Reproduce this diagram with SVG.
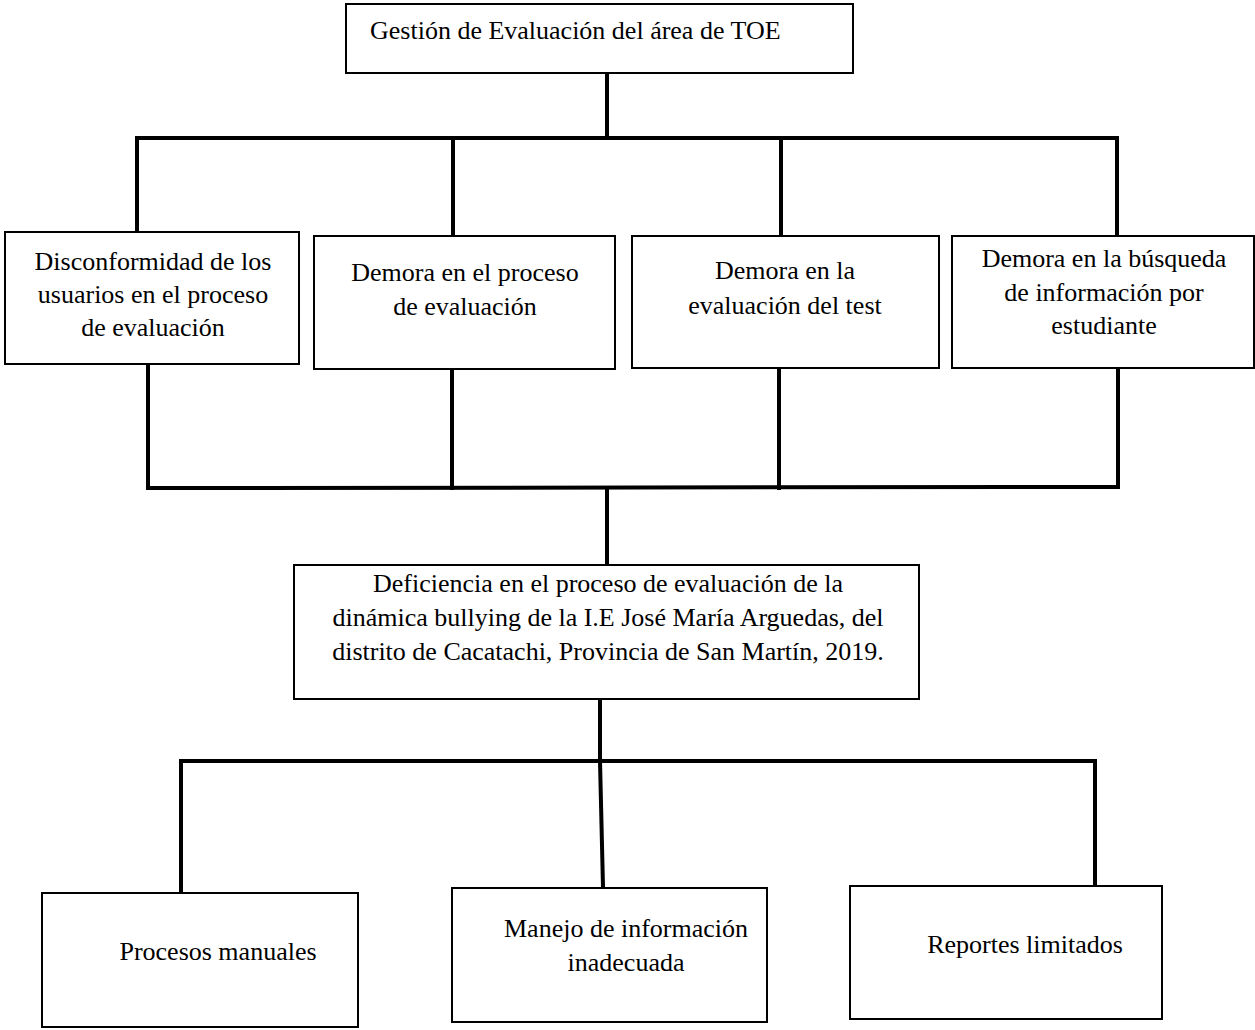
<svg xmlns="http://www.w3.org/2000/svg" width="1255" height="1030" viewBox="0 0 1255 1030">
  <style>
    .box { fill: #ffffff; stroke: #000000; stroke-width: 2; }
    .lbl { font-family: "Liberation Serif", "Times New Roman", serif; font-size: 26px; fill: #000000; text-anchor: middle; }
    .lbl-left { font-family: "Liberation Serif", "Times New Roman", serif; font-size: 26px; fill: #000000; }
    .wire { fill: none; stroke: #000000; stroke-width: 4; stroke-linecap: square; }
  </style>
  <rect width="1255" height="1030" fill="#ffffff"/>

  <!-- connectors -->
  <g id="connectors">
    <line class="wire" x1="607" y1="74" x2="607" y2="138"/>
    <line class="wire" x1="137" y1="138" x2="1117" y2="138"/>
    <line class="wire" x1="137" y1="138" x2="137" y2="231"/>
    <line class="wire" x1="453" y1="138" x2="453" y2="235"/>
    <line class="wire" x1="781" y1="138" x2="781" y2="235"/>
    <line class="wire" x1="1117" y1="138" x2="1117" y2="235"/>

    <line class="wire" x1="148" y1="365" x2="148" y2="488"/>
    <line class="wire" x1="452" y1="370" x2="452" y2="488"/>
    <line class="wire" x1="779" y1="369" x2="779" y2="488"/>
    <line class="wire" x1="1118" y1="369" x2="1118" y2="487"/>
    <line class="wire" x1="148" y1="488" x2="1118" y2="487"/>
    <line class="wire" x1="607" y1="488" x2="607" y2="564"/>

    <line class="wire" x1="600" y1="700" x2="600" y2="761"/>
    <line class="wire" x1="181" y1="761" x2="1095" y2="761"/>
    <line class="wire" x1="181" y1="761" x2="181" y2="892"/>
    <line class="wire" x1="600" y1="761" x2="603" y2="887"/>
    <line class="wire" x1="1095" y1="761" x2="1095" y2="885"/>
  </g>

  <!-- top node -->
  <g id="n-gestion">
    <rect class="box" x="346" y="4" width="507" height="69"/>
    <text class="lbl-left" x="370" y="39">Gestión de Evaluación del área de TOE</text>
  </g>

  <!-- causes row -->
  <g id="n-disconformidad">
    <rect class="box" x="5" y="232" width="294" height="132"/>
    <text class="lbl" x="153" y="270">Disconformidad de los</text>
    <text class="lbl" x="153" y="303">usuarios en el proceso</text>
    <text class="lbl" x="153" y="336">de evaluación</text>
  </g>
  <g id="n-demora-proceso">
    <rect class="box" x="314" y="236" width="301" height="133"/>
    <text class="lbl" x="465" y="281">Demora en el proceso</text>
    <text class="lbl" x="465" y="315">de evaluación</text>
  </g>
  <g id="n-demora-test">
    <rect class="box" x="632" y="236" width="307" height="132"/>
    <text class="lbl" x="785" y="279">Demora en la</text>
    <text class="lbl" x="785" y="314">evaluación del test</text>
  </g>
  <g id="n-demora-busqueda">
    <rect class="box" x="952" y="236" width="302" height="132"/>
    <text class="lbl" x="1104" y="267">Demora en la búsqueda</text>
    <text class="lbl" x="1104" y="301">de información por</text>
    <text class="lbl" x="1104" y="334">estudiante</text>
  </g>

  <!-- central problem -->
  <g id="n-deficiencia">
    <rect class="box" x="294" y="565" width="625" height="134"/>
    <text class="lbl" x="608" y="592">Deficiencia en el proceso de evaluación de la</text>
    <text class="lbl" x="608" y="626">dinámica bullying de la I.E José María Arguedas, del</text>
    <text class="lbl" x="608" y="660">distrito de Cacatachi, Provincia de San Martín, 2019.</text>
  </g>

  <!-- effects row -->
  <g id="n-procesos">
    <rect class="box" x="42" y="893" width="316" height="134"/>
    <text class="lbl" x="218" y="960">Procesos manuales</text>
  </g>
  <g id="n-manejo">
    <rect class="box" x="452" y="888" width="315" height="134"/>
    <text class="lbl" x="626" y="937">Manejo de información</text>
    <text class="lbl" x="626" y="971">inadecuada</text>
  </g>
  <g id="n-reportes">
    <rect class="box" x="850" y="886" width="312" height="133"/>
    <text class="lbl" x="1025" y="953">Reportes limitados</text>
  </g>
</svg>
